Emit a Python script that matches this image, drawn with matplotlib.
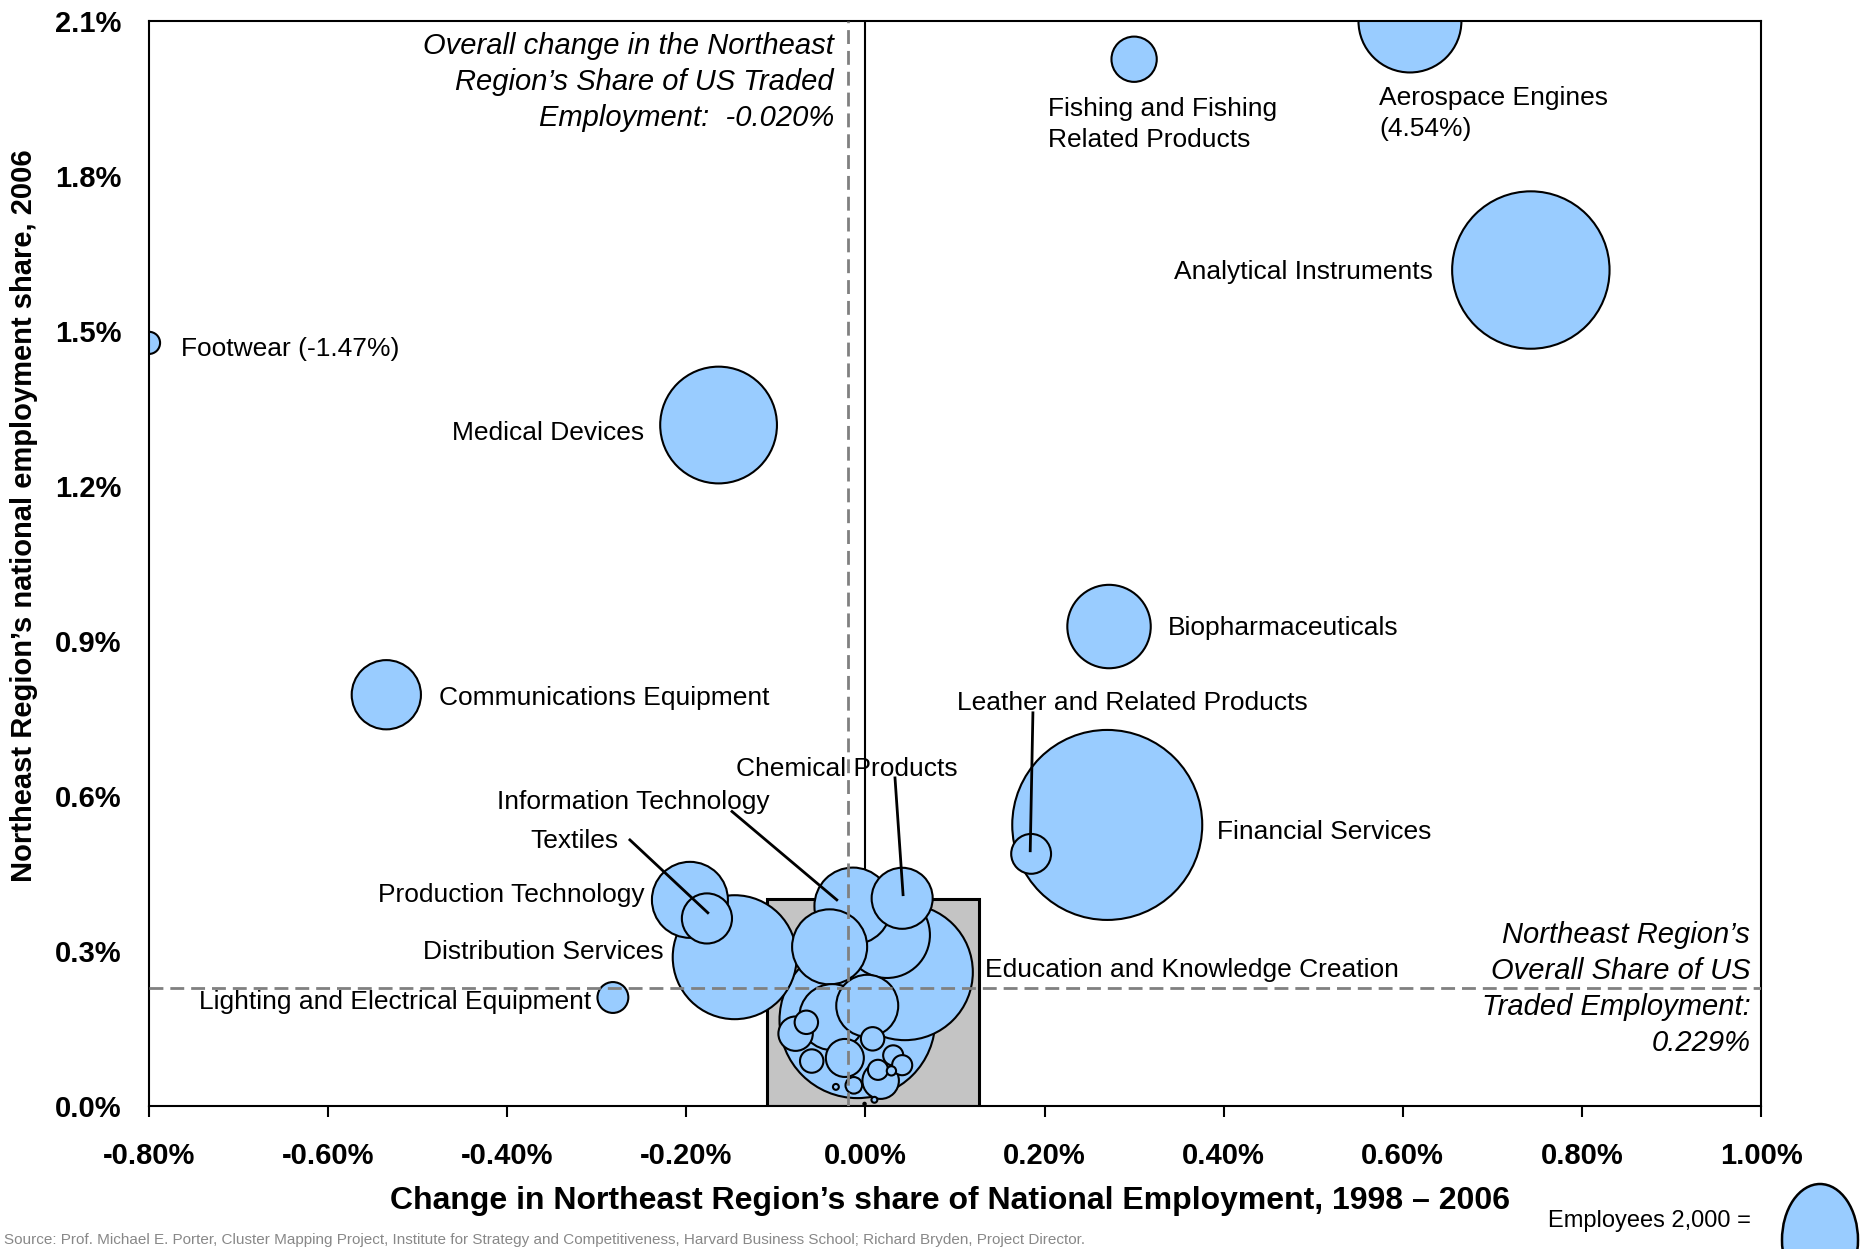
import numpy as np
import matplotlib
matplotlib.use('Agg')
import matplotlib.pyplot as plt
from matplotlib.patches import Rectangle, Ellipse

plt.rcParams['font.family'] = ['Liberation Sans', 'DejaVu Sans']

# labelled clusters: change in share 1998-2006 (%), share 2006 (%), employees
names = ['Aerospace Engines', 'Fishing and Fishing Related Products',
         'Analytical Instruments', 'Footwear', 'Medical Devices',
         'Biopharmaceuticals', 'Communications Equipment', 'Financial Services',
         'Leather and Related Products', 'Lighting and Electrical Equipment',
         'Production Technology', 'Textiles', 'Distribution Services',
         'Education and Knowledge Creation', 'Chemical Products',
         'Information Technology']
share_change = [0.608, 0.300, 0.743, -1.47, -0.164,
                0.272, -0.535, 0.270,
                0.185, -0.282,
                -0.196, -0.177, -0.146,
                0.044, 0.041,
                -0.014]
share_2006 = [4.54, 2.026, 1.618, 1.477, 1.318,
              0.928, 0.796, 0.544,
              0.488, 0.210,
              0.399, 0.363, 0.288,
              0.259, 0.402,
              0.387]
employees = [3670, 710, 8580, 170, 4720,
             2410, 1660, 12500,
             550, 330,
             2000, 870, 5320,
             6400, 1290,
             2050]

# smaller, unlabelled clusters packed around the origin
other_change = [-0.040, 0.024, -0.037, 0.002, -0.009, -0.078, -0.066, -0.060,
                -0.023, 0.008, 0.031, 0.014, 0.041, 0.029, -0.013, 0.017,
                -0.033, 0.010, -0.001]
other_share = [0.308, 0.331, 0.172, 0.194, 0.166, 0.140, 0.162, 0.087,
               0.093, 0.130, 0.098, 0.070, 0.079, 0.068, 0.040, 0.049,
               0.037, 0.012, 0.004]
other_emp = [1950, 2560, 1510, 1330, 8400, 410, 190, 190,
             500, 190, 140, 140, 140, 30, 95, 460,
             12, 12, 2]

xmin, xmax = -0.80, 1.00
ymin, ymax = 0.0, 2.1
x_ticks = np.arange(-0.8, 1.0001, 0.2)
y_ticks = np.arange(0.0, 2.1001, 0.3)

overall_change = -0.020
overall_share = 0.229
box_x = (-0.110, 0.127)
box_top = 0.401

legend_emp = 2000
legend_radius_px = 38

label_pos = {
    'Aerospace Engines': (0.574, 1.921, 'left', 'Aerospace Engines\n(4.54%)'),
    'Fishing and Fishing Related Products': (0.204, 1.900, 'left', 'Fishing and Fishing\nRelated Products'),
    'Analytical Instruments': (0.345, 1.615, 'left', None),
    'Footwear': (-0.764, 1.465, 'left', 'Footwear (-1.47%)'),
    'Medical Devices': (-0.247, 1.302, 'right', None),
    'Biopharmaceuticals': (0.338, 0.925, 'left', None),
    'Communications Equipment': (-0.4765, 0.790, 'left', None),
    'Financial Services': (0.392, 0.531, 'left', None),
    'Leather and Related Products': (0.1024, 0.780, 'left', None),
    'Lighting and Electrical Equipment': (-0.744, 0.201, 'left', None),
    'Production Technology': (-0.544, 0.408, 'left', None),
    'Textiles': (-0.374, 0.513, 'left', None),
    'Distribution Services': (-0.494, 0.298, 'left', None),
    'Education and Knowledge Creation': (0.133, 0.263, 'left', None),
    'Chemical Products': (-0.145, 0.653, 'left', None),
    'Information Technology': (-0.411, 0.588, 'left', None),
}
# leader lines: label end -> bubble
leaders = {
    'Textiles': ((-0.263, 0.515), (-0.176, 0.374)),
    'Information Technology': ((-0.149, 0.570), (-0.032, 0.399)),
    'Chemical Products': ((0.033, 0.635), (0.042, 0.409)),
    'Leather and Related Products': ((0.187, 0.761), (0.184, 0.494)),
}

fig = plt.figure(figsize=(18.69, 12.49), dpi=100)
ax = fig.add_axes([149 / 1869, 1 - 1106 / 1249, (1761 - 149) / 1869, (1106 - 21) / 1249])


def bubble_size(emp):
    # marker area in pt^2, radius scaled so that legend_emp -> legend_radius_px
    r_px = legend_radius_px * np.sqrt(np.asarray(emp, dtype=float) / legend_emp)
    return (2 * r_px * 72 / fig.dpi) ** 2


def pct(v, nd):
    v = 0.0 if abs(v) < 1e-9 else v
    return '%.*f%%' % (nd, v)


fill = '#99ccff'

all_x = np.clip(np.array(share_change + other_change), xmin, xmax)
all_y = np.clip(np.array(share_2006 + other_share), ymin, ymax)
all_emp = np.array(employees + other_emp)
order = np.argsort(-all_emp)

ax.add_patch(Rectangle((box_x[0], 0), box_x[1] - box_x[0], box_top,
                       facecolor='#c4c4c4', edgecolor='black', lw=2.2, zorder=1))
ax.axvline(0, color='black', lw=1.5, zorder=0.5)

ax.scatter(all_x[order], all_y[order], s=bubble_size(all_emp[order]),
           facecolor=fill, edgecolor='black', linewidths=1.5, zorder=2)

# overall change / overall share reference lines
ax.axvline(overall_change, color='#808080', lw=2, ls=(0, (5, 2.5)), zorder=3)
ax.axhline(overall_share, color='#808080', lw=2, ls=(0, (5, 2.5)), zorder=3)

lab_fs = 19
for name in names:
    lx, ly, ha, txt = label_pos[name]
    ax.text(lx, ly, txt if txt else name, ha=ha, va='center', fontsize=lab_fs,
            linespacing=1.4, zorder=4)

for (x0, y0), (x1, y1) in leaders.values():
    ax.plot([x0, x1], [y0, y1], color='black', lw=2, zorder=3.5)

ax.text(-0.035, 1.982,
        'Overall change in the Northeast\nRegion\u2019s Share of US Traded\nEmployment:  %.3f%%' % overall_change,
        ha='right', va='center', fontsize=21, style='italic', linespacing=1.36, zorder=4)
ax.text(0.988, 0.227,
        'Northeast Region\u2019s\nOverall Share of US\nTraded Employment:\n%.3f%%' % overall_share,
        ha='right', va='center', fontsize=21, style='italic', linespacing=1.36, zorder=4)

ax.set_xlim(xmin, xmax)
ax.set_ylim(ymin, ymax)
ax.set_xticks(x_ticks)
ax.set_xticklabels([pct(v, 2) for v in x_ticks])
ax.set_yticks(y_ticks)
ax.set_yticklabels([pct(v, 1) for v in y_ticks])
ax.tick_params(axis='x', direction='out', length=8, width=1.5, pad=18, labelsize=21)
ax.tick_params(axis='y', length=0, pad=20, labelsize=21)
for lab in ax.get_xticklabels() + ax.get_yticklabels():
    lab.set_fontweight('bold')
for sp in ax.spines.values():
    sp.set_linewidth(1.5)

fig.text(950 / 1869, 1 - 1201 / 1249,
         'Change in Northeast Region\u2019s share of National Employment, 1998 \u2013 2006',
         ha='center', va='center', fontsize=23, fontweight='bold')
fig.text(24 / 1869, 1 - 516 / 1249,
         'Northeast Region\u2019s national employment share, 2006',
         ha='center', va='center', rotation=90, fontsize=21, fontweight='bold')

# bubble size key
fig.text(1548 / 1869, 1 - 1221 / 1249, 'Employees 2,000 =', ha='left', va='center', fontsize=17)
fig.patches.append(Ellipse((18.20, 0.09), 2 * legend_radius_px / fig.dpi, 1.12,
                           transform=fig.dpi_scale_trans, facecolor=fill,
                           edgecolor='black', lw=1.8))

fig.text(0.002, 0.002,
         'Source: Prof. Michael E. Porter, Cluster Mapping Project, Institute for Strategy and '
         'Competitiveness, Harvard Business School; Richard Bryden, Project Director.',
         ha='left', va='bottom', fontsize=11, color='#888888')

fig.savefig('out.png', dpi=100)
